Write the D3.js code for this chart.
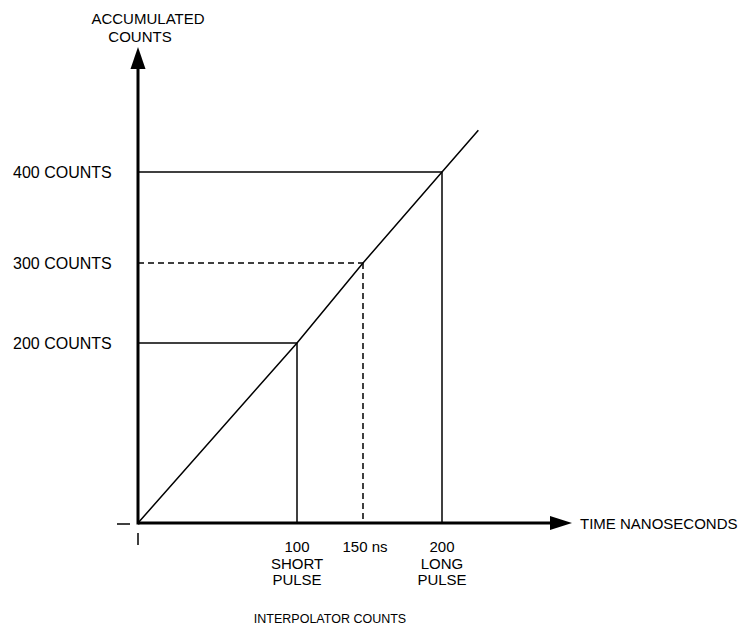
<!DOCTYPE html>
<html>
<head>
<meta charset="utf-8">
<script src="https://cdn.jsdelivr.net/npm/d3@7"></script>
<style>
  body { margin: 0; background: #fff; }
  text { font-family: "Liberation Sans", Arial, sans-serif; fill: #000; }
</style>
</head>
<body>
<div id="chart"></div>
<script>
// values
const timeTicks = [0, 100, 150, 200];
const countTicks = [0, 200, 300, 400];
const pulseTimes = [100, 150, 200];
const pulseCounts = [200, 300, 400];
const pulseDashed = [false, true, false];
const pulseLabels = [["100", "SHORT", "PULSE"], ["150 ns"], ["200", "LONG", "PULSE"]];
const countLabels = ["200 COUNTS", "300 COUNTS", "400 COUNTS"];
const rampEnd = [223, 446];

const width = 741, height = 628;

const svg = d3.select("#chart").append("svg")
    .attr("width", width)
    .attr("height", height);

// schematic axes, not evenly spaced in the original drawing
const x = d3.scaleLinear().domain(timeTicks).range([138, 297, 363, 442]);
const y = d3.scaleLinear().domain(countTicks).range([523, 343, 263, 172]);

const xEnd = 572, yTop = 47;

// guide lines from each count level to the ramp and down to the time axis
pulseTimes.forEach((t, i) => {
    const g = svg.append("g")
        .attr("stroke", "#000")
        .attr("stroke-width", 1.5)
        .attr("stroke-dasharray", pulseDashed[i] ? "6,4" : null)
        .attr("fill", "none");
    g.append("line")
        .attr("x1", x(0)).attr("x2", x(t))
        .attr("y1", y(pulseCounts[i])).attr("y2", y(pulseCounts[i]));
    g.append("line")
        .attr("x1", x(t)).attr("x2", x(t))
        .attr("y1", y(pulseCounts[i])).attr("y2", y(0));
});

// the ramp
const ramp = [[0, 0]].concat(pulseTimes.map((t, i) => [t, pulseCounts[i]]), [rampEnd]);
svg.append("path")
    .datum(ramp)
    .attr("fill", "none")
    .attr("stroke", "#000")
    .attr("stroke-width", 1.5)
    .attr("d", d3.line().x(d => x(d[0])).y(d => y(d[1])));

// axes
svg.append("line")
    .attr("x1", x(0)).attr("x2", xEnd - 18)
    .attr("y1", y(0)).attr("y2", y(0))
    .attr("stroke", "#000").attr("stroke-width", 3);
svg.append("line")
    .attr("x1", x(0)).attr("x2", x(0))
    .attr("y1", y(0) + 1.5).attr("y2", yTop + 18)
    .attr("stroke", "#000").attr("stroke-width", 3);

// arrow heads
svg.append("path")
    .attr("d", `M${xEnd},${y(0)} L${xEnd - 22},${y(0) - 7} L${xEnd - 22},${y(0) + 7} Z`)
    .attr("fill", "#000");
svg.append("path")
    .attr("d", `M${x(0)},${yTop} L${x(0) - 7.5},${yTop + 22} L${x(0) + 7.5},${yTop + 22} Z`)
    .attr("fill", "#000");

// little origin marks
svg.append("line")
    .attr("x1", x(0) - 21).attr("x2", x(0) - 8)
    .attr("y1", y(0) + 1).attr("y2", y(0) + 1)
    .attr("stroke", "#000").attr("stroke-width", 1.5);
svg.append("line")
    .attr("x1", x(0)).attr("x2", x(0))
    .attr("y1", y(0) + 10).attr("y2", y(0) + 22)
    .attr("stroke", "#000").attr("stroke-width", 1.5);

// count labels on the left
svg.selectAll(".count-label")
    .data(pulseCounts)
    .join("text")
    .attr("class", "count-label")
    .attr("x", 13)
    .attr("y", d => y(d) + 6)
    .style("font-size", "16px")
    .text((d, i) => countLabels[i]);

// time labels under the axis
pulseTimes.forEach((t, i) => {
    svg.append("text")
        .attr("text-anchor", "middle")
        .attr("x", x(t) + (i === 1 ? 2 : 0))
        .attr("y", 552)
        .style("font-size", "15px")
        .selectAll("tspan")
        .data(pulseLabels[i])
        .join("tspan")
        .attr("x", x(t) + (i === 1 ? 2 : 0))
        .attr("dy", (d, j) => j === 0 ? 0 : 16.5)
        .text(d => d);
});

// axis titles
svg.append("text")
    .attr("text-anchor", "middle")
    .attr("x", 148).attr("y", 24)
    .style("font-size", "15px")
    .text("ACCUMULATED");
svg.append("text")
    .attr("text-anchor", "middle")
    .attr("x", 140).attr("y", 42)
    .style("font-size", "15px")
    .text("COUNTS");
svg.append("text")
    .attr("x", 580).attr("y", 529)
    .style("font-size", "15px")
    .text("TIME NANOSECONDS");
svg.append("text")
    .attr("text-anchor", "middle")
    .attr("x", 330).attr("y", 623)
    .style("font-size", "12.5px")
    .text("INTERPOLATOR COUNTS");
</script>
</body>
</html>
